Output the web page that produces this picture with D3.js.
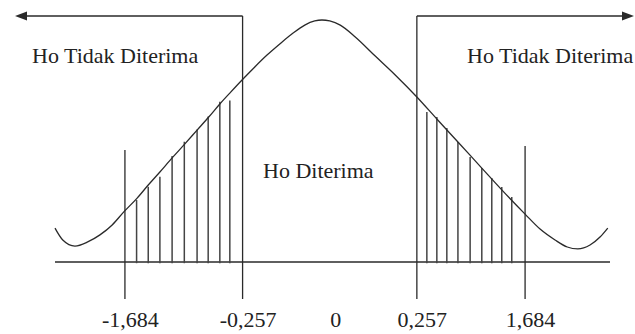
<!DOCTYPE html>
<html>
<head>
<meta charset="utf-8">
<script src="https://cdn.jsdelivr.net/npm/d3@7"></script>
<style>
  body { margin: 0; background: #fff; }
</style>
</head>
<body>
<div id="chart-area"></div>
<script>
// schematic units: x 0..100 across the base line, y 0..100 up to the peak
let curveX = [0, 1.4, 3.6, 5.9, 8.1, 10.3, 12.4, 14.8, 16.8, 18.9, 21.1, 23.4, 25.6, 27.7, 29.7, 31.5, 33.7, 36.0, 38.2, 40.5, 42.9, 45.0, 46.8, 48.1, 49.5, 51.4, 54.1, 57.7, 61.3, 65.2, 68.8, 72.6, 76.9, 80.5, 84.7, 87.4, 90.1, 92.3, 94.2, 96.4, 98.2, 99.6];
let curveY = [14.0, 9.1, 6.6, 8.3, 11.2, 15.3, 20.7, 26.4, 31.8, 37.2, 43.0, 48.8, 54.5, 59.9, 65.3, 69.8, 75.2, 80.6, 85.5, 90.1, 94.6, 97.9, 99.6, 100, 99.6, 97.9, 93.0, 85.1, 77.3, 68.2, 59.1, 49.6, 38.8, 29.8, 19.8, 13.6, 9.1, 6.2, 5.4, 7.0, 10.3, 14.0];

let leftHatchX = [14.7, 16.8, 18.9, 21.1, 23.3, 25.6, 27.6, 29.7, 31.5];
let leftHatchY = [25.6, 31.1, 35.2, 43.8, 49.7, 54.8, 60.1, 66.2, 66.7];
let rightHatchX = [67.0, 68.8, 70.6, 72.6, 74.8, 76.9, 78.7, 80.5, 82.3];
let rightHatchY = [62.0, 59.9, 55.4, 49.6, 43.4, 38.8, 34.7, 31.0, 26.9];

let tickPos = [12.6, 33.8, 49.6, 65.2, 84.7];
let tickLabels = ["-1,684", "-0,257", "0", "0,257", "1,684"];

let width = 635, height = 334;
let serif = "'Liberation Serif', 'Times New Roman', serif";

let svg = d3.select("#chart-area")
    .append("svg")
    .attr("width", width)
    .attr("height", height);

let x = d3.scaleLinear().domain([0, 100]).range([55, 610]);
let y = d3.scaleLinear().domain([0, 100]).range([262, 20]);

let ink = "#2a2a2a";

// base line
svg.append("line")
    .attr("x1", x(0)).attr("x2", x(100))
    .attr("y1", y(0)).attr("y2", y(0))
    .attr("stroke", ink).attr("stroke-width", 1.4);

// hatching in the shaded areas
let hatch = leftHatchX.map((d, i) => ({x: d, y: leftHatchY[i]}))
    .concat(rightHatchX.map((d, i) => ({x: d, y: rightHatchY[i]})));

svg.selectAll(".hatch")
    .data(hatch)
    .enter().append("line")
    .attr("class", "hatch")
    .attr("x1", d => x(d.x)).attr("x2", d => x(d.x))
    .attr("y1", y(-0.5)).attr("y2", d => y(d.y))
    .attr("stroke", "#444").attr("stroke-width", 1.5);

// curve
let pts = curveX.map((d, i) => [d, curveY[i]]);
svg.append("path")
    .datum(pts)
    .attr("fill", "none")
    .attr("stroke", ink)
    .attr("stroke-width", 1.3)
    .attr("d", d3.line().x(d => x(d[0])).y(d => y(d[1])).curve(d3.curveMonotoneX));

// critical value lines (index 2 is the centre, no line)
let outer = [tickPos[0], tickPos[4]];
let inner = [tickPos[1], tickPos[3]];
let topY = 16, bottomY = 299;

svg.selectAll(".outer")
    .data(outer)
    .enter().append("line")
    .attr("class", "outer")
    .attr("x1", d => x(d)).attr("x2", d => x(d))
    .attr("y1", (d, i) => i == 0 ? 150 : 146).attr("y2", bottomY)
    .attr("stroke", ink).attr("stroke-width", 1.3);

svg.selectAll(".inner")
    .data(inner)
    .enter().append("line")
    .attr("class", "inner")
    .attr("x1", d => x(d)).attr("x2", d => x(d))
    .attr("y1", topY).attr("y2", bottomY)
    .attr("stroke", ink).attr("stroke-width", 1.3);

// arrows for the rejection regions
let arrowEnds = [15, 634];
inner.forEach(function(d, i){
    let tip = arrowEnds[i];
    let dir = i == 0 ? 1 : -1;
    svg.append("line")
        .attr("x1", x(d)).attr("x2", tip + dir * 8)
        .attr("y1", topY).attr("y2", topY)
        .attr("stroke", ink).attr("stroke-width", 1.4);
    svg.append("path")
        .attr("d", "M" + tip + "," + topY + "L" + (tip + dir * 12) + "," + (topY - 4.5) +
                   "L" + (tip + dir * 12) + "," + (topY + 4.5) + "Z")
        .attr("fill", ink);
});

// labels
let labels = [
    {text: "Ho Tidak Diterima", x: 32, y: 63},
    {text: "Ho Tidak Diterima", x: 467, y: 63},
    {text: "Ho Diterima", x: 263, y: 178}
];
svg.selectAll(".region-label")
    .data(labels)
    .enter().append("text")
    .attr("class", "region-label")
    .attr("x", d => d.x).attr("y", d => d.y)
    .style("font-family", serif)
    .style("font-size", "22px")
    .style("fill", "#222")
    .text(d => d.text);

// tick labels
let xAxis = d3.axisBottom(x)
    .tickValues(tickPos)
    .tickSize(0)
    .tickFormat((d, i) => tickLabels[i]);

let axisG = svg.append("g")
    .attr("transform", "translate(5, 310)")
    .call(xAxis);
axisG.select(".domain").remove();
axisG.selectAll("text")
    .style("font-family", serif)
    .style("font-size", "22px")
    .style("fill", "#222")
    .attr("dy", 0)
    .attr("y", 17);
</script>
</body>
</html>
